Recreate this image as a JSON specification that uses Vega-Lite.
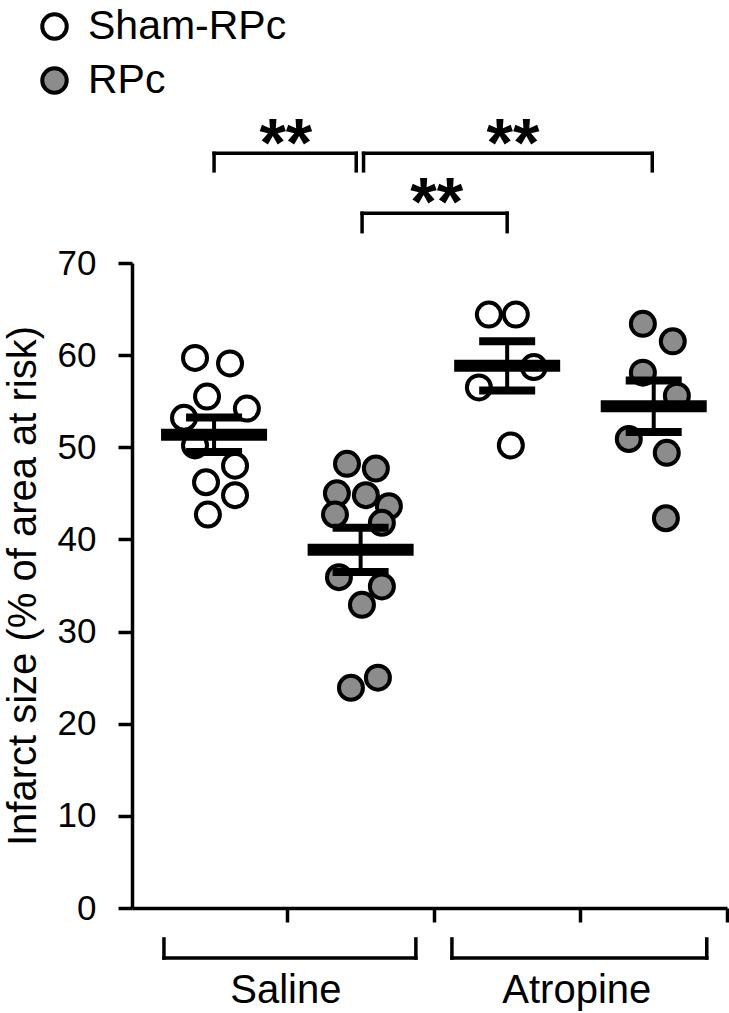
{
  "$schema": "https://vega.github.io/schema/vega-lite/v6.json",
  "width": 595,
  "height": 645,
  "autosize": {"type": "none"},
  "padding": {"left": 132, "top": 263, "right": 2, "bottom": 105},
  "background": "white",
  "config": {
    "view": {"stroke": null},
    "font": "Liberation Sans",
    "axis": {"grid": false, "domainColor": "black", "tickColor": "black", "domainWidth": 3.5, "tickWidth": 3.5, "labelColor": "black", "titleColor": "black", "labelFont": "Liberation Sans", "titleFont": "Liberation Sans"}
  },
  "datasets": {
    "pts": [
      {"center": 1, "pos": 0.870, "v": 59.7, "treatment": "Sham-RPc"},
      {"center": 1, "pos": 1.109, "v": 59.1, "treatment": "Sham-RPc"},
      {"center": 1, "pos": 0.952, "v": 55.5, "treatment": "Sham-RPc"},
      {"center": 1, "pos": 1.224, "v": 54.2, "treatment": "Sham-RPc"},
      {"center": 1, "pos": 0.795, "v": 53.2, "treatment": "Sham-RPc"},
      {"center": 1, "pos": 0.870, "v": 50.2, "treatment": "Sham-RPc"},
      {"center": 1, "pos": 1.143, "v": 48.0, "treatment": "Sham-RPc"},
      {"center": 1, "pos": 0.945, "v": 46.2, "treatment": "Sham-RPc"},
      {"center": 1, "pos": 1.143, "v": 44.8, "treatment": "Sham-RPc"},
      {"center": 1, "pos": 0.958, "v": 42.7, "treatment": "Sham-RPc"},
      {"center": 2, "pos": 1.907, "v": 48.2, "treatment": "RPc"},
      {"center": 2, "pos": 2.104, "v": 47.7, "treatment": "RPc"},
      {"center": 2, "pos": 1.838, "v": 45.0, "treatment": "RPc"},
      {"center": 2, "pos": 2.036, "v": 44.8, "treatment": "RPc"},
      {"center": 2, "pos": 2.193, "v": 43.6, "treatment": "RPc"},
      {"center": 2, "pos": 1.825, "v": 42.7, "treatment": "RPc"},
      {"center": 2, "pos": 2.145, "v": 41.8, "treatment": "RPc"},
      {"center": 2, "pos": 1.852, "v": 35.9, "treatment": "RPc"},
      {"center": 2, "pos": 2.145, "v": 34.9, "treatment": "RPc"},
      {"center": 2, "pos": 2.009, "v": 32.9, "treatment": "RPc"},
      {"center": 2, "pos": 1.934, "v": 23.9, "treatment": "RPc"},
      {"center": 2, "pos": 2.118, "v": 25.0, "treatment": "RPc"},
      {"center": 3, "pos": 2.875, "v": 64.4, "treatment": "Sham-RPc"},
      {"center": 3, "pos": 3.059, "v": 64.4, "treatment": "Sham-RPc"},
      {"center": 3, "pos": 3.182, "v": 58.7, "treatment": "Sham-RPc"},
      {"center": 3, "pos": 2.807, "v": 56.5, "treatment": "Sham-RPc"},
      {"center": 3, "pos": 3.025, "v": 50.2, "treatment": "Sham-RPc"},
      {"center": 4, "pos": 3.926, "v": 63.4, "treatment": "RPc"},
      {"center": 4, "pos": 4.130, "v": 61.5, "treatment": "RPc"},
      {"center": 4, "pos": 3.926, "v": 58.1, "treatment": "RPc"},
      {"center": 4, "pos": 4.158, "v": 55.6, "treatment": "RPc"},
      {"center": 4, "pos": 3.830, "v": 50.9, "treatment": "RPc"},
      {"center": 4, "pos": 4.089, "v": 49.4, "treatment": "RPc"},
      {"center": 4, "pos": 4.083, "v": 42.3, "treatment": "RPc"}
    ],
    "brackets": [
      {"x1": 1.0, "x2": 1.97, "ytop": 81.9, "ybot": 80.0, "sx": 1.49, "sy": 80.5, "label": "**"},
      {"x1": 2.02, "x2": 3.99, "ytop": 81.9, "ybot": 80.0, "sx": 3.04, "sy": 80.5, "label": "**"},
      {"x1": 2.01, "x2": 3.0, "ytop": 75.4, "ybot": 73.4, "sx": 2.52, "sy": 74.1, "label": "**"}
    ],
    "groups": [
      {"x1": 0.658, "x2": 2.377, "ytop": -3.36, "ybot": -5.43, "lx": 1.49, "ly": -10.3, "label": "Saline"},
      {"x1": 2.623, "x2": 4.362, "ytop": -3.36, "ybot": -5.43, "lx": 3.475, "ly": -10.3, "label": "Atropine"}
    ]
  },
  "layer": [
    {
      "data": {"name": "pts"},
      "mark": {"type": "point", "shape": "circle", "filled": true, "stroke": "black", "strokeWidth": 4, "size": 576, "opacity": 1},
      "encoding": {
        "x": {"field": "pos", "type": "quantitative", "scale": {"domain": [0.44, 4.5], "nice": false, "zero": false},
              "axis": {"values": [1.5, 2.5, 3.5, 4.5], "labels": false, "title": null, "tickSize": 14}},
        "y": {"field": "v", "type": "quantitative", "scale": {"domain": [0, 70], "nice": false},
              "title": "Infarct size (% of area at risk)",
              "axis": {"values": [0, 10, 20, 30, 40, 50, 60, 70], "tickSize": 14, "labelFontSize": 35, "labelPadding": 22,
                       "titleFontSize": 40, "titleFontWeight": "normal", "titlePadding": 14}},
        "fill": {"field": "treatment", "type": "nominal", "scale": {"domain": ["Sham-RPc", "RPc"], "range": ["white", "#8c8c8c"]},
                 "legend": {"orient": "none", "legendX": -98, "legendY": -257, "title": null, "symbolType": "circle", "symbolSize": 600,
                            "symbolStrokeColor": "black", "symbolStrokeWidth": 4, "symbolOpacity": 1, "labelFontSize": 41, "labelFont": "Liberation Sans",
                            "labelColor": "black", "labelOffset": 13, "labelLimit": 0, "rowPadding": 12}}
      }
    },
    {
      "data": {"name": "pts"},
      "mark": {"type": "tick", "orient": "horizontal", "size": 106, "thickness": 12, "color": "black", "opacity": 1},
      "encoding": {
        "x": {"field": "center", "type": "quantitative"},
        "y": {"field": "v", "type": "quantitative", "aggregate": "mean", "title": "Infarct size (% of area at risk)"}
      }
    },
    {
      "data": {"name": "pts"},
      "mark": {"type": "errorbar", "extent": "stderr", "orient": "vertical", "color": "black",
               "rule": {"strokeWidth": 4, "stroke": "black", "color": "black", "opacity": 1},
               "ticks": {"size": 52, "thickness": 4, "strokeWidth": 4, "stroke": "black", "color": "black", "opacity": 1}},
      "encoding": {
        "x": {"field": "center", "type": "quantitative"},
        "y": {"field": "v", "type": "quantitative", "title": "Infarct size (% of area at risk)"}
      }
    },
    {
      "data": {"name": "brackets"},
      "mark": {"type": "rule", "color": "black", "strokeWidth": 3.5, "strokeCap": "square"},
      "encoding": {"x": {"field": "x1", "type": "quantitative"}, "x2": {"field": "x2"}, "y": {"field": "ytop", "type": "quantitative", "title": "Infarct size (% of area at risk)"}}
    },
    {
      "data": {"name": "brackets"},
      "mark": {"type": "rule", "color": "black", "strokeWidth": 3.5, "strokeCap": "square"},
      "encoding": {"x": {"field": "x1", "type": "quantitative"}, "y": {"field": "ytop", "type": "quantitative", "title": "Infarct size (% of area at risk)"}, "y2": {"field": "ybot"}}
    },
    {
      "data": {"name": "brackets"},
      "mark": {"type": "rule", "color": "black", "strokeWidth": 3.5, "strokeCap": "square"},
      "encoding": {"x": {"field": "x2", "type": "quantitative"}, "y": {"field": "ytop", "type": "quantitative", "title": "Infarct size (% of area at risk)"}, "y2": {"field": "ybot"}}
    },
    {
      "data": {"name": "brackets"},
      "mark": {"type": "text", "fontSize": 68, "fontWeight": "bold", "font": "Liberation Sans", "color": "black", "align": "center", "baseline": "alphabetic"},
      "encoding": {"x": {"field": "sx", "type": "quantitative"}, "y": {"field": "sy", "type": "quantitative", "title": "Infarct size (% of area at risk)"}, "text": {"field": "label"}}
    },
    {
      "data": {"name": "groups"},
      "mark": {"type": "rule", "color": "black", "strokeWidth": 3.5, "strokeCap": "square"},
      "encoding": {"x": {"field": "x1", "type": "quantitative"}, "x2": {"field": "x2"}, "y": {"field": "ybot", "type": "quantitative", "title": "Infarct size (% of area at risk)"}}
    },
    {
      "data": {"name": "groups"},
      "mark": {"type": "rule", "color": "black", "strokeWidth": 3.5, "strokeCap": "square"},
      "encoding": {"x": {"field": "x1", "type": "quantitative"}, "y": {"field": "ytop", "type": "quantitative", "title": "Infarct size (% of area at risk)"}, "y2": {"field": "ybot"}}
    },
    {
      "data": {"name": "groups"},
      "mark": {"type": "rule", "color": "black", "strokeWidth": 3.5, "strokeCap": "square"},
      "encoding": {"x": {"field": "x2", "type": "quantitative"}, "y": {"field": "ytop", "type": "quantitative", "title": "Infarct size (% of area at risk)"}, "y2": {"field": "ybot"}}
    },
    {
      "data": {"name": "groups"},
      "mark": {"type": "text", "fontSize": 40, "font": "Liberation Sans", "color": "black", "align": "center", "baseline": "alphabetic"},
      "encoding": {"x": {"field": "lx", "type": "quantitative"}, "y": {"field": "ly", "type": "quantitative", "title": "Infarct size (% of area at risk)"}, "text": {"field": "label"}}
    }
  ]
}
